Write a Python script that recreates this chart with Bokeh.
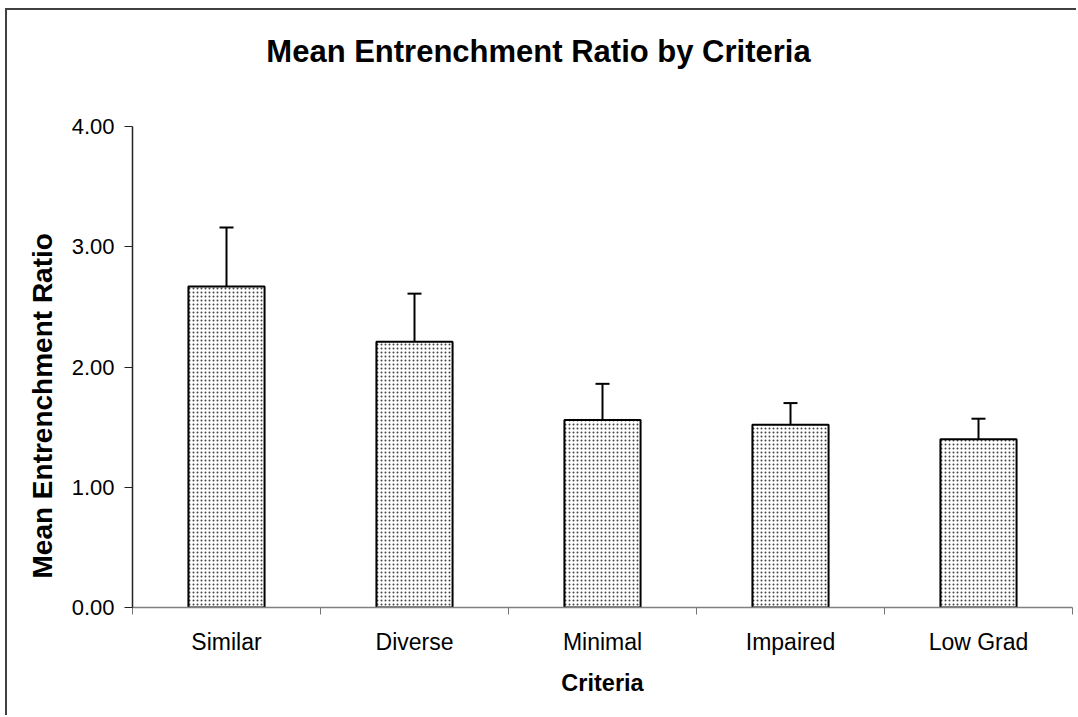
from bokeh.plotting import figure
from bokeh.models import (ColumnDataSource, FixedTicker, NumeralTickFormatter,
                          Whisker, TeeHead, Range1d, Title, Label)
from bokeh.embed import file_html
from bokeh.resources import INLINE

categories = ["Similar", "Diverse", "Minimal", "Impaired", "Low Grad"]
means = [2.67, 2.21, 1.56, 1.52, 1.40]
errors = [0.49, 0.40, 0.30, 0.18, 0.17]
y_ticks = [0, 1, 2, 3, 4]

pos = [i + 0.5 for i in range(len(categories))]
tops = [m + e for m, e in zip(means, errors)]
src = ColumnDataSource(dict(x=pos, top=means, upper=tops, cat=categories))

FONT = "Liberation Sans"

# frame extends above the 4.00 tick so the chart title sits inside it;
# the y axis line itself is bounded to 0..4
PX_PER_UNIT = 120.25
MB_TOP, MB_BOTTOM, HEIGHT = 20, 110, 707
y_end = (HEIGHT - MB_TOP - MB_BOTTOM) / PX_PER_UNIT

p = figure(width=1071, height=HEIGHT, output_backend="svg", toolbar_location=None,
           title=None,
           x_range=Range1d(0, len(categories)), y_range=Range1d(0, y_end),
           min_border_left=125, min_border_right=6, min_border_top=MB_TOP,
           min_border_bottom=MB_BOTTOM)
p.styles = {"border-top": "2px solid #404040", "border-left": "2px solid #404040",
            "margin-left": "5px", "margin-top": "8px"}
p.outline_line_color = None
p.xgrid.visible = False
p.ygrid.visible = False
p.background_fill_color = "white"
p.border_fill_color = "white"

p.vbar(x="x", top="top", width=0.405, bottom=0, source=src,
       fill_color="white", line_color="black", line_width=2,
       hatch_pattern="dot", hatch_scale=4, hatch_weight=1.3, hatch_color="#444444")

w = Whisker(source=src, base="x", lower="top", upper="upper", dimension="height",
            line_color="black", line_width=2,
            upper_head=TeeHead(size=14, line_color="black", line_width=2),
            lower_head=None)
p.add_layout(w)

# chart title
title = Label(x=406, x_units="screen", y=4.62, y_units="data",
              text="Mean Entrenchment Ratio by Criteria",
              text_align="center", text_baseline="middle",
              text_font=FONT, text_font_size="31px", text_font_style="bold",
              text_color="black")
p.add_layout(title)

# y axis
ya = p.yaxis[0]
ya.bounds = (y_ticks[0], y_ticks[-1])
ya.ticker = FixedTicker(ticks=y_ticks, minor_ticks=[])
ya.formatter = NumeralTickFormatter(format="0.00")
ya.major_label_text_font = FONT
ya.major_label_text_font_size = "22px"
ya.major_label_text_color = "black"
ya.major_tick_out = 8
ya.major_tick_in = 0
ya.major_label_standoff = 10
ya.axis_line_color = "#222222"
ya.axis_line_width = 1.5
ya.major_tick_line_color = "#222222"

ytitle = Title(text="Mean Entrenchment Ratio", align="left", offset=29,
               text_font=FONT, text_font_size="28px", text_font_style="bold",
               text_color="black", standoff=22)
p.add_layout(ytitle, "left")

# x axis: labels at bar centers, small ticks between categories
xa = p.xaxis[0]
xa.ticker = FixedTicker(ticks=pos, minor_ticks=list(range(len(categories) + 1)))
xa.major_label_overrides = {pp: c for pp, c in zip(pos, categories)}
xa.major_label_text_font = FONT
xa.major_label_text_font_size = "23px"
xa.major_label_text_color = "black"
xa.major_tick_out = 0
xa.major_tick_in = 0
xa.minor_tick_out = 7
xa.minor_tick_in = 0
xa.minor_tick_line_color = "#777777"
xa.axis_line_color = "#808080"
xa.axis_line_width = 1.5
xa.major_label_standoff = 14
xa.axis_label = "Criteria"
xa.axis_label_text_font = FONT
xa.axis_label_text_font_size = "23.5px"
xa.axis_label_text_font_style = "bold"
xa.axis_label_text_color = "black"
xa.axis_label_standoff = 12

open("out.html", "w").write(file_html(p, INLINE))
